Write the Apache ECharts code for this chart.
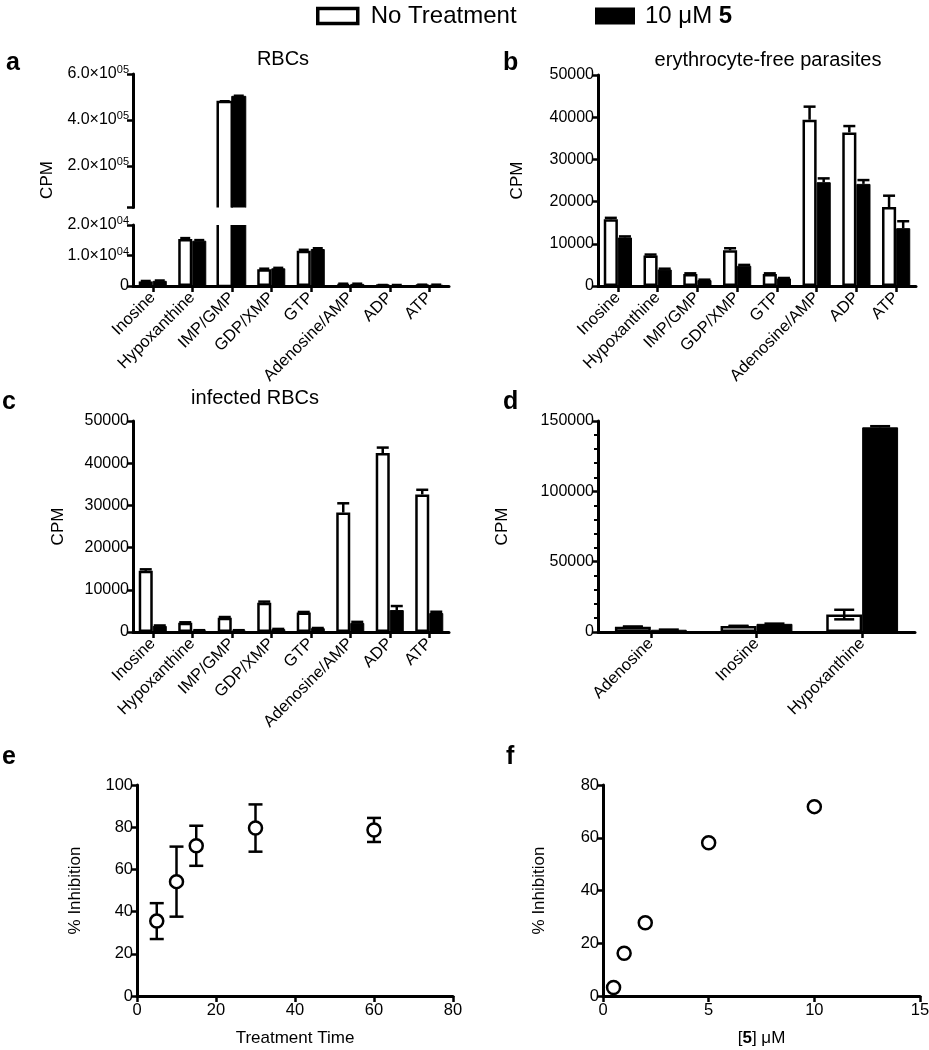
<!DOCTYPE html>
<html><head><meta charset="utf-8">
<script src="https://cdn.jsdelivr.net/npm/echarts@6/dist/echarts.min.js"></script>
<style>html,body{margin:0;padding:0;background:#fff}#c{width:929px;height:1050px}</style>
</head><body><div id="c"></div>
<script>
// ---------- data ----------
const catsABC = ['Inosine','Hypoxanthine','IMP/GMP','GDP/XMP','GTP','Adenosine/AMP','ADP','ATP'];
const aNo = [1500, 15400, 478000, 5470, 11570, 700, 300, 400];
const aNoErr = [150, 300, 4000, 200, 300, 50, 30, 30];
const aDrug = [1700, 14850, 503000, 5800, 12130, 700, 300, 400];
const aDrugErr = [100, 200, 3000, 150, 250, 50, 30, 30];
const bNo = [15800, 7200, 2850, 8450, 2850, 39400, 36400, 18700];
const bNoErr = [350, 250, 150, 500, 150, 3100, 1500, 2700];
const bDrug = [11500, 3900, 1400, 4800, 1800, 24600, 24200, 13700];
const bDrugErr = [250, 200, 100, 200, 100, 900, 900, 1650];
const cNo = [14500, 2200, 3400, 6950, 4600, 28300, 42400, 32600];
const cNoErr = [350, 100, 150, 250, 150, 2200, 1300, 1100];
const cDrug = [1450, 380, 380, 680, 900, 2150, 5200, 4500];
const cDrugErr = [100, 50, 50, 50, 50, 250, 950, 300];
const catsD = ['Adenosine','Inosine','Hypoxanthine'];
const dNo = [3700, 4200, 12400];
const dNoErr = [200, 200, 3400];
const dDrug = [1600, 5800, 145500];
const dDrugErr = [100, 150, 800];
const eTime = [5, 10, 15, 30, 60];
const eInh = [35.5, 54.2, 71.2, 79.6, 78.7];
const eErr = [8.5, 16.6, 9.5, 11.2, 5.7];
const fConc = [0.5, 1, 2, 5, 10];
const fInh = [3.2, 16.2, 27.8, 58.1, 71.8];
const aBreak = 20000;
const aUpperTicks = [20000, 200000, 400000, 600000];
const aUpperLabels = [200000, 400000, 600000];

// ---------- helpers ----------
const FONT = 'Liberation Sans, Arial, Helvetica, sans-serif';
const NO = 'No Treatment', DRUG = '10 μM 5';
const GAP = 0.29, GAPD = 0.32;
const lineAx = {show:true, onZero:false, lineStyle:{color:'#000', width:3}};
const tickAx = {show:true, length:6, lineStyle:{color:'#000', width:2.5}};
const lab = (extra) => Object.assign({color:'#000', fontSize:16, fontFamily:FONT, formatter:v => String(v)}, extra||{});

function catAxis(grid, cats, show) {
  return {type:'category', gridIndex:grid, data:cats, show:show,
    axisLine:lineAx, axisTick:Object.assign({alignWithLabel:true, interval:0}, tickAx),
    axisLabel:{color:'#000', fontSize:16.5, fontFamily:FONT, rotate:45, interval:0, margin:9}, splitLine:{show:false}};
}
function valAxis(grid, min, max, interval, extra) {
  return Object.assign({type:'value', gridIndex:grid, min, max, interval,
    axisLine:lineAx, axisTick:tickAx, axisLabel:lab({margin:4}), splitLine:{show:false}}, extra||{});
}
function bars(xi, yi, no, drug, gap) {
  const g = Math.round(gap*100) + '%';
  return [
    {type:'bar', name:NO, xAxisIndex:xi, yAxisIndex:yi, data:no, barGap:'0%', barCategoryGap:g, clip:true,
     itemStyle:{color:'#fff', borderColor:'#000', borderWidth:2.5}, z:2},
    {type:'bar', name:DRUG, xAxisIndex:xi, yAxisIndex:yi, data:drug, barGap:'0%', barCategoryGap:g, clip:true,
     itemStyle:{color:'#000', borderColor:'#000', borderWidth:1}, z:2}
  ];
}
// bars that cross the axis break of panel a: drawn open on the side of the break
function brokenBars(xi, yi, vals, side, gap, white, segment) {
  return {type:'custom', name:'broken', xAxisIndex:xi, yAxisIndex:yi, silent:true, z:2,
    data:vals.map((v, i) => [i, v]).filter(d => d[1] >= aBreak),
    renderItem(params, api) {
      const i = api.value(0), v = api.value(1);
      const band = api.size([1, 0])[0];
      const bw = band * (1 - gap) / 2;
      const cx = api.coord([i, aBreak])[0];
      const x0 = side < 0 ? cx - bw : cx, x1 = x0 + bw;
      const cs = params.coordSys;
      let pts;
      if (segment === 'upper') {
        const yTop = api.coord([i, v])[1], yBot = cs.y + cs.height;
        pts = [[x0, yBot], [x0, yTop], [x1, yTop], [x1, yBot]];
      } else {
        const yTop = cs.y, yBot = api.coord([i, 0])[1];
        pts = [[x0, yTop], [x0, yBot], [x1, yBot], [x1, yTop]];
      }
      const ch = [{type:'polygon', shape:{points:pts}, style:{fill: white ? '#fff' : '#000', stroke:null}}];
      ch.push({type:'polyline', shape:{points:pts}, style:{fill:null, stroke:'#000', lineWidth: white ? 2.5 : 1}});
      return {type:'group', children:ch};
    }};
}
function errBars(xi, yi, data, side, gap, capHalf, both) {
  return {type:'custom', name:'err', xAxisIndex:xi, yAxisIndex:yi, data:data, z:4, silent:true, clip:true,
    renderItem(params, api) {
      const i = api.value(0), v = api.value(1), e = api.value(2);
      let off = 0;
      if (side !== 0) {
        const band = api.size([1, 0])[0];
        const bw = band * (1 - gap) / 2;
        off = side * bw / 2;
      }
      const top = api.coord([i, v + e]);
      const mid = api.coord([i, v]);
      const bot = both ? api.coord([i, v - e]) : mid;
      const x = top[0] + off;
      const st = {stroke:'#000', lineWidth:2.5};
      const ch = [
        {type:'line', shape:{x1:x, y1:bot[1], x2:x, y2:top[1]}, style:st},
        {type:'line', shape:{x1:x-capHalf, y1:top[1], x2:x+capHalf, y2:top[1]}, style:st}
      ];
      if (both) ch.push({type:'line', shape:{x1:x-capHalf, y1:bot[1], x2:x+capHalf, y2:bot[1]}, style:st});
      return {type:'group', children:ch};
    }};
}
const pack = (vals, errs, keep) => vals.map((v, i) => [i, v, errs[i]]).filter(d => keep(d[1]));
const all = () => true;

// ---------- option ----------
const chart = echarts.init(document.getElementById('c'), null, {renderer:'canvas'});
const supRich = {sup:{fontSize:11, fontFamily:FONT, color:'#000', padding:[0,0,8,0]}};

const grids = [
  {left:133, top:74, width:316, height:133.5},   // a upper
  {left:133, top:225, width:316, height:61},     // a lower
  {left:598, top:75, width:318, height:211},     // b
  {left:133, top:421, width:316, height:211},    // c
  {left:598, top:421, width:317, height:211},    // d
  {left:137, top:785, width:316, height:211},    // e
  {left:603, top:785, width:317, height:211}     // f
].map(g => Object.assign({outerBoundsMode:'none', containLabel:false}, g));

const xAxes = [
  catAxis(0, catsABC, false),
  catAxis(1, catsABC, true),
  catAxis(2, catsABC, true),
  catAxis(3, catsABC, true),
  catAxis(4, catsD, true),
  {type:'value', gridIndex:5, min:0, max:80, interval:20, axisLine:lineAx, axisTick:tickAx,
   axisLabel:lab({fontSize:16.5, margin:6}), splitLine:{show:false},
   name:'Treatment Time', nameLocation:'middle', nameGap:34, nameTextStyle:{color:'#000', fontSize:17, fontFamily:FONT}},
  {type:'value', gridIndex:6, min:0, max:15, interval:5, axisLine:lineAx, axisTick:tickAx,
   axisLabel:lab({fontSize:16.5, margin:6}), splitLine:{show:false},
   name:'[{b|5}] μM', nameLocation:'middle', nameGap:34,
   nameTextStyle:{color:'#000', fontSize:17, fontFamily:FONT, rich:{b:{fontWeight:'bold', fontSize:17, fontFamily:FONT, color:'#000'}}}}
];

const nameStyle = {color:'#000', fontSize:17, fontFamily:FONT};
const yAxes = [
  valAxis(0, aBreak, 600000, null, {
    axisTick:Object.assign({customValues:aUpperTicks}, tickAx),
    axisLabel:lab({margin:4, customValues:aUpperLabels, rich:supRich,
      formatter:v => (v/100000).toFixed(1) + '×10{sup|05}'})}),
  valAxis(1, 0, aBreak, 10000, {
    axisLabel:lab({margin:4, rich:supRich,
      formatter:v => v === 0 ? '0' : (v/10000).toFixed(1) + '×10{sup|04}'})}),
  valAxis(2, 0, 50000, 10000, {name:'CPM', nameLocation:'middle', nameGap:72, nameTextStyle:nameStyle}),
  valAxis(3, 0, 50000, 10000, {name:'CPM', nameLocation:'middle', nameGap:66, nameTextStyle:nameStyle}),
  valAxis(4, 0, 150000, 50000, {name:'CPM', nameLocation:'middle', nameGap:87, nameTextStyle:nameStyle,
    minorTick:{show:true, splitNumber:5, length:4, lineStyle:{color:'#000', width:2}}}),
  valAxis(5, 0, 100, 20, {axisLabel:lab({fontSize:16.5, margin:4}),
    name:'% Inhibition', nameLocation:'middle', nameGap:53, nameTextStyle:nameStyle}),
  valAxis(6, 0, 80, 20, {axisLabel:lab({fontSize:16.5, margin:4}),
    name:'% Inhibition', nameLocation:'middle', nameGap:55, nameTextStyle:nameStyle})
];

const lowerKeep = v => v < aBreak;
const series = [
  brokenBars(0, 0, aNo, -1, GAP, true, 'upper'),
  brokenBars(0, 0, aDrug, 1, GAP, false, 'upper'),
  errBars(0, 0, pack(aNo, aNoErr, v => v >= aBreak), -1, GAP, 5, false),
  errBars(0, 0, pack(aDrug, aDrugErr, v => v >= aBreak), 1, GAP, 5, false),
  ...bars(1, 1, aNo.map(v => lowerKeep(v) ? v : '-'), aDrug.map(v => lowerKeep(v) ? v : '-'), GAP),
  brokenBars(1, 1, aNo, -1, GAP, true, 'lower'),
  brokenBars(1, 1, aDrug, 1, GAP, false, 'lower'),
  errBars(1, 1, pack(aNo, aNoErr, lowerKeep), -1, GAP, 5, false),
  errBars(1, 1, pack(aDrug, aDrugErr, lowerKeep), 1, GAP, 5, false),
  ...bars(2, 2, bNo, bDrug, GAP),
  errBars(2, 2, pack(bNo, bNoErr, all), -1, GAP, 6, false),
  errBars(2, 2, pack(bDrug, bDrugErr, all), 1, GAP, 6, false),
  ...bars(3, 3, cNo, cDrug, GAP),
  errBars(3, 3, pack(cNo, cNoErr, all), -1, GAP, 6, false),
  errBars(3, 3, pack(cDrug, cDrugErr, all), 1, GAP, 6, false),
  ...bars(4, 4, dNo, dDrug, GAPD),
  errBars(4, 4, pack(dNo, dNoErr, all), -1, GAPD, 10, true),
  errBars(4, 4, pack(dDrug, dDrugErr, all), 1, GAPD, 10, false),
  {type:'custom', name:'errE', xAxisIndex:5, yAxisIndex:5, silent:true, z:3,
   data:eTime.map((t, i) => [t, eInh[i], eErr[i]]),
   renderItem(params, api) {
     const t = api.value(0), v = api.value(1), e = api.value(2);
     const top = api.coord([t, v + e]), bot = api.coord([t, v - e]);
     const st = {stroke:'#000', lineWidth:2.5};
     return {type:'group', children:[
       {type:'line', shape:{x1:top[0], y1:top[1], x2:bot[0], y2:bot[1]}, style:st},
       {type:'line', shape:{x1:top[0]-7, y1:top[1], x2:top[0]+7, y2:top[1]}, style:st},
       {type:'line', shape:{x1:bot[0]-7, y1:bot[1], x2:bot[0]+7, y2:bot[1]}, style:st}
     ]};
   }},
  {type:'scatter', name:'e', xAxisIndex:5, yAxisIndex:5, data:eTime.map((t, i) => [t, eInh[i]]),
   symbol:'circle', symbolSize:13, z:5, itemStyle:{color:'#fff', borderColor:'#000', borderWidth:2.5, opacity:1}},
  {type:'scatter', name:'f', xAxisIndex:6, yAxisIndex:6, data:fConc.map((c, i) => [c, fInh[i]]),
   symbol:'circle', symbolSize:13, z:5, itemStyle:{color:'#fff', borderColor:'#000', borderWidth:2.5, opacity:1}}
];

const txt = (x, y, text, size, bold, align, rot) => ({type:'text', x, y, rotation:rot||0,
  style:{text, fill:'#000', font:(bold ? 'bold ' : '') + size + 'px ' + FONT,
    textAlign:align||'left', textVerticalAlign:'middle'}});

const option = {
  animation:false,
  backgroundColor:'#fff',
  legend:[
    {data:[{name:NO, icon:'rect', itemStyle:{color:'#fff', borderColor:'#000', borderWidth:3.5}}],
     left:311, top:-1, itemWidth:40, itemHeight:15, selectedMode:false,
     textStyle:{color:'#000', fontSize:24, fontFamily:FONT, padding:[0,0,0,8]}},
    {data:[{name:DRUG, icon:'rect', itemStyle:{color:'#000', borderColor:'#000', borderWidth:0}}],
     left:590, top:-1, itemWidth:40, itemHeight:17, selectedMode:false,
     formatter:() => '10 μM {b|5}',
     textStyle:{color:'#000', fontSize:24, fontFamily:FONT, padding:[0,0,0,5],
       rich:{b:{fontWeight:'bold', fontSize:24, fontFamily:FONT, color:'#000'}}}}
  ],
  grid:grids,
  xAxis:xAxes,
  yAxis:yAxes,
  series:series,
  graphic:[
    txt(6, 63, 'a', 25, true),
    txt(503, 63, 'b', 25, true),
    txt(2, 402, 'c', 25, true),
    txt(503, 402, 'd', 25, true),
    txt(2, 757, 'e', 25, true),
    txt(506, 757, 'f', 25, true),
    txt(283, 59, 'RBCs', 20, false, 'center'),
    txt(768, 60, 'erythrocyte-free parasites', 20, false, 'center'),
    txt(255, 398, 'infected RBCs', 20, false, 'center'),
    txt(47, 180, 'CPM', 17, false, 'center', Math.PI/2)
  ]
};
chart.setOption(option);
</script>
</body></html>
